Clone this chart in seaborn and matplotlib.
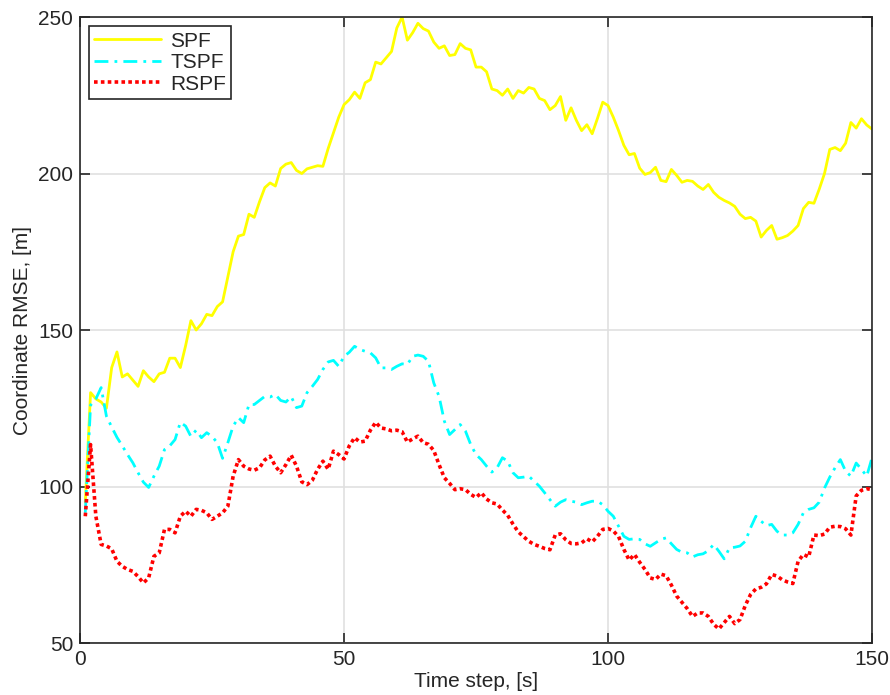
import matplotlib
matplotlib.use("Agg")
import matplotlib.pyplot as plt
import numpy as np
import pandas as pd
import seaborn as sns

# Time steps and per-filter coordinate RMSE values
time_step = list(range(1, 151))

spf = [95, 130, 128, 127, 125, 138, 143, 135, 136, 134,
       132, 137, 135, 133.5, 136, 136.5, 141, 141, 138, 145,
       153, 150, 152, 155, 154.6, 157.5, 159, 167, 175, 180,
       180.5, 187, 186, 191, 195.5, 197, 196, 201.6, 203, 203.5,
       201, 200, 201.5, 202, 202.5, 202.3, 208, 213, 218, 222,
       223.6, 226, 224, 229, 230, 235.6, 235, 237, 239, 246.5,
       250, 242.6, 245, 248, 246.3, 245.5, 242, 240, 240.8, 237.7,
       238, 241.5, 240, 239.5, 234, 234, 232.5, 227, 226.5, 225,
       227, 224, 226.5, 225.7, 227.5, 227, 224, 223.3, 220.4, 221.7,
       224.6, 217, 221, 217, 213.7, 215.6, 212.7, 217.6, 222.8, 221.7,
       218, 213.7, 209, 206, 206.4, 201.7, 199.7, 200.3, 202, 197.8,
       197.4, 201.3, 199.4, 197.2, 197.8, 197.5, 196, 194.9, 196.5, 194,
       192.4, 191.4, 190.6, 189.5, 187, 185.6, 186, 184.8, 179.7, 181.8,
       183.4, 179, 179.5, 180.2, 181.6, 183.4, 188.8, 190.8, 190.5, 195,
       200, 207.7, 208.3, 207.3, 209.7, 216.3, 214.5, 217.5, 215.5, 214.2]

tspf = [91.6, 126, 128, 131.6, 122.5, 119, 115.7, 113, 110.2, 107.6,
        104.4, 101.4, 99.7, 103.3, 106.5, 111.8, 113, 115, 120.5, 119.3,
        116, 118, 115.6, 117.2, 116, 114, 109, 114, 119.3, 122,
        120.4, 126.2, 126.2, 127.5, 128.8, 128.6, 129.4, 127.5, 127, 128.7,
        125.2, 125.7, 130, 132, 134.2, 137.4, 139.8, 140.3, 138.4, 141.6,
        142.9, 144.8, 143.8, 143.2, 142.7, 141.1, 137.9, 137.9, 137.4, 138.4,
        139.2, 139, 141.6, 142, 141.6, 140, 133.1, 128.8, 120.9, 116.6,
        118.2, 119.8, 117.7, 113.4, 110.2, 108.6, 106.5, 104.6, 106, 109.2,
        108.1, 104.4, 102.8, 103, 103.3, 101.7, 100.1, 98, 95.8, 93.7,
        95, 95.8, 95.3, 95, 94.2, 94.8, 95.3, 95.3, 94.2, 92.1,
        90.5, 87.3, 84.1, 83.1, 83.3, 83.1, 81.7, 80.9, 82, 83.1,
        83.6, 81.7, 79.9, 79, 78.8, 77.5, 78.2, 78.5, 79.5, 81.5,
        79.3, 76.9, 80.4, 80.6, 81, 82.5, 86.8, 90.5, 88.9, 87.5,
        87.9, 85.7, 84.5, 84.5, 85.2, 87.9, 91.6, 92.7, 93.2, 95,
        99.5, 103, 106, 108.6, 104.9, 103.3, 107.5, 105.5, 103.3, 109.2]

rspf = [90.5, 113.4, 90.5, 81.5, 81, 80.1, 76.1, 74.5, 73.5, 72.9,
        71.2, 69.2, 70.8, 77.7, 78.8, 86.3, 86.3, 85.2, 90.5, 92.1,
        90.5, 92.7, 92.4, 91.6, 89.5, 90.5, 91.6, 93.7, 103.3, 108.6,
        106.5, 105.6, 105.2, 106, 108.5, 109.7, 106.5, 104.4, 107, 110,
        106.5, 101.5, 100.6, 102, 105.5, 108.1, 105.5, 111.3, 110.2, 108.8,
        113, 115.6, 114.2, 114.5, 118, 120.5, 118.7, 118.4, 117.8, 118,
        117.5, 114.2, 115.2, 116.1, 114, 113.5, 111.5, 107, 102.8, 101,
        99, 99.3, 99, 97.5, 96.5, 98, 96, 94.8, 94.4, 92.5,
        90.8, 88, 85.5, 84, 82.5, 81.5, 80.9, 80.2, 79.8, 84.5,
        84.9, 83, 81.8, 81.7, 82, 83.3, 82.3, 84.1, 86.3, 86.6,
        85.8, 84, 79.9, 76.5, 78.3, 75.8, 73.5, 70.8, 70.3, 72,
        71.5, 68.5, 65, 63, 61, 58.5, 59.6, 59.6, 58.5, 56,
        54.5, 56.5, 58.5, 56.2, 57.5, 62, 65.5, 67.3, 67.8, 68.9,
        71.9, 71.4, 70.2, 69.5, 69, 76.1, 78.3, 77.5, 84.5, 84.3,
        84.8, 87, 87.3, 87.2, 86.5, 84.5, 97, 98.8, 99.3, 99]

series_names = ["SPF", "TSPF", "RSPF"]
x_ticks = [0, 50, 100, 150]
y_ticks = [50, 100, 150, 200, 250]

sns.set_theme(style="white")
plt.rcParams["font.family"] = ["Liberation Sans", "DejaVu Sans"]

df = pd.DataFrame({
    "t": time_step * 3,
    "rmse": spf + tspf + rspf,
    "filter": np.repeat(series_names, len(time_step)),
})

styles = {
    "SPF": dict(color="#FFFF00", linestyle="-", linewidth=2.0),
    "TSPF": dict(color="#00FFFF", linestyle=(0, (5, 2.2, 1, 2.2)), linewidth=2.0),
    "RSPF": dict(color="#FF0000", linestyle=(0, (1, 0.9)), linewidth=2.6),
}

fig = plt.figure(figsize=(8.9, 6.95), dpi=100)
ax = fig.add_axes([0.0899, 0.0748, 0.8899, 0.9007])

for name in series_names:
    sub = df[df["filter"] == name]
    sns.lineplot(data=sub, x="t", y="rmse", ax=ax, label=name, **styles[name])

text_color = "#262626"
fs = 15

ax.set_xlim(0, 150)
ax.set_ylim(50, 250)
ax.set_xticks(x_ticks)
ax.set_yticks(y_ticks)
ax.grid(True, color="#e0e0e0", linewidth=1.2)
ax.set_axisbelow(True)
for sp in ax.spines.values():
    sp.set_color(text_color)
    sp.set_linewidth(1.2)
ax.tick_params(direction="in", length=7, width=1.2, colors=text_color,
               labelsize=fs, top=True, right=True, bottom=True, left=True,
               labelcolor=text_color, pad=5)
ax.set_xlabel("Time step, [s]", fontsize=fs, color=text_color, labelpad=2)
ax.set_ylabel("Coordinate RMSE, [m]", fontsize=fs, color=text_color, labelpad=4)

leg = ax.legend(loc="upper left", bbox_to_anchor=(0.0115, 0.985), fontsize=fs,
                frameon=True, fancybox=False, handlelength=3.2,
                borderpad=0.25, labelspacing=0.12, handletextpad=0.45,
                borderaxespad=0.0)
leg.get_frame().set_edgecolor(text_color)
leg.get_frame().set_linewidth(1.2)
leg.get_frame().set_alpha(1.0)

fig.savefig("out.png", dpi=100, facecolor="white")
